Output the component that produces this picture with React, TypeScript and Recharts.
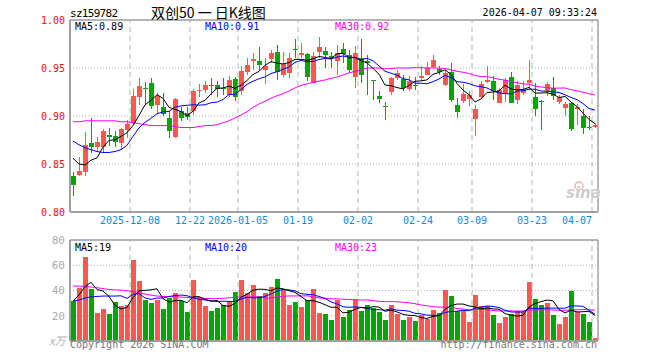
import React from "react";
import {
  ComposedChart, Bar, Line, XAxis, YAxis, CartesianGrid, ReferenceLine,
} from "recharts";

// trading days, 2025-11-24 .. 2026-04-07
const DATES = [
  "2025-11-24", "2025-11-25", "2025-11-26", "2025-11-27", "2025-11-28",
  "2025-12-01", "2025-12-02", "2025-12-03", "2025-12-04", "2025-12-05",
  "2025-12-08", "2025-12-09", "2025-12-10", "2025-12-11", "2025-12-12",
  "2025-12-15", "2025-12-16", "2025-12-17", "2025-12-18", "2025-12-19",
  "2025-12-22", "2025-12-23", "2025-12-24", "2025-12-25", "2025-12-26",
  "2025-12-29", "2025-12-30", "2025-12-31",
  "2026-01-05", "2026-01-06", "2026-01-07", "2026-01-08", "2026-01-09",
  "2026-01-12", "2026-01-13", "2026-01-14", "2026-01-15", "2026-01-16",
  "2026-01-19", "2026-01-20", "2026-01-21", "2026-01-22", "2026-01-23",
  "2026-01-26", "2026-01-27", "2026-01-28", "2026-01-29", "2026-01-30",
  "2026-02-02", "2026-02-03", "2026-02-04", "2026-02-05", "2026-02-06",
  "2026-02-09", "2026-02-10", "2026-02-11", "2026-02-12", "2026-02-13",
  "2026-02-24", "2026-02-25", "2026-02-26", "2026-02-27",
  "2026-03-02", "2026-03-03", "2026-03-04", "2026-03-05", "2026-03-06",
  "2026-03-09", "2026-03-10", "2026-03-11", "2026-03-12", "2026-03-13",
  "2026-03-16", "2026-03-17", "2026-03-18", "2026-03-19", "2026-03-20",
  "2026-03-23", "2026-03-24", "2026-03-25", "2026-03-26", "2026-03-27",
  "2026-03-30", "2026-03-31", "2026-04-01", "2026-04-02", "2026-04-03",
  "2026-04-07",
];

const OPEN = [
  0.838, 0.839, 0.842, 0.872, 0.868, 0.868, 0.880, 0.879, 0.872, 0.885,
  0.893, 0.920, 0.929, 0.934, 0.911, 0.909, 0.898, 0.878, 0.905, 0.903,
  0.905, 0.926, 0.927, 0.932, 0.932, 0.929, 0.922, 0.939, 0.926, 0.946,
  0.957, 0.957, 0.948, 0.959, 0.967, 0.943, 0.945, 0.970, 0.964, 0.965,
  0.934, 0.967, 0.968, 0.962, 0.957, 0.970, 0.964, 0.941, 0.960, 0.957,
  0.937, 0.921, 0.910, 0.925, 0.940, 0.939, 0.928, 0.932, 0.940, 0.943,
  0.951, 0.949, 0.932, 0.946, 0.911, 0.916, 0.918, 0.897, 0.920, 0.935,
  0.936, 0.914, 0.924, 0.941, 0.917, 0.924, 0.934, 0.920, 0.916, 0.926,
  0.929, 0.915, 0.908, 0.914, 0.907, 0.900, 0.889, 0.889,
];
const HIGH = [
  0.842, 0.857, 0.883, 0.898, 0.878, 0.886, 0.887, 0.884, 0.887, 0.896,
  0.928, 0.940, 0.935, 0.940, 0.924, 0.924, 0.905, 0.919, 0.909, 0.909,
  0.928, 0.933, 0.936, 0.940, 0.936, 0.940, 0.942, 0.941, 0.952, 0.960,
  0.966, 0.972, 0.960, 0.969, 0.974, 0.967, 0.966, 0.980, 0.976, 0.966,
  0.967, 0.982, 0.972, 0.967, 0.974, 0.976, 0.969, 0.973, 0.980, 0.964,
  0.938, 0.926, 0.915, 0.941, 0.948, 0.943, 0.942, 0.941, 0.952, 0.956,
  0.964, 0.952, 0.948, 0.955, 0.919, 0.933, 0.926, 0.911, 0.936, 0.952,
  0.942, 0.929, 0.940, 0.946, 0.936, 0.936, 0.958, 0.934, 0.917, 0.935,
  0.941, 0.922, 0.915, 0.915, 0.912, 0.907, 0.900, 0.893,
];
const LOW = [
  0.817, 0.838, 0.837, 0.861, 0.864, 0.862, 0.869, 0.868, 0.865, 0.877,
  0.891, 0.911, 0.912, 0.907, 0.903, 0.900, 0.877, 0.877, 0.895, 0.896,
  0.901, 0.920, 0.924, 0.922, 0.920, 0.922, 0.920, 0.916, 0.922, 0.943,
  0.948, 0.948, 0.933, 0.955, 0.937, 0.941, 0.940, 0.960, 0.960, 0.936,
  0.934, 0.960, 0.950, 0.950, 0.943, 0.955, 0.945, 0.929, 0.934, 0.922,
  0.917, 0.914, 0.896, 0.922, 0.938, 0.926, 0.926, 0.927, 0.936, 0.943,
  0.950, 0.943, 0.931, 0.915, 0.898, 0.914, 0.910, 0.879, 0.919, 0.934,
  0.917, 0.914, 0.915, 0.914, 0.912, 0.922, 0.927, 0.900, 0.885, 0.921,
  0.917, 0.912, 0.900, 0.884, 0.891, 0.881, 0.885, 0.887,
];
const CLOSE = [
  0.828, 0.843, 0.870, 0.868, 0.873, 0.884, 0.878, 0.873, 0.886, 0.892,
  0.921, 0.931, 0.928, 0.910, 0.921, 0.902, 0.884, 0.918, 0.898, 0.899,
  0.926, 0.927, 0.932, 0.931, 0.928, 0.928, 0.937, 0.920, 0.947, 0.953,
  0.959, 0.953, 0.952, 0.966, 0.946, 0.954, 0.960, 0.969, 0.966, 0.941,
  0.962, 0.972, 0.964, 0.960, 0.966, 0.965, 0.948, 0.966, 0.943, 0.955,
  0.936, 0.918, 0.909, 0.940, 0.945, 0.929, 0.936, 0.931, 0.942, 0.950,
  0.958, 0.946, 0.945, 0.917, 0.904, 0.923, 0.922, 0.907, 0.933, 0.937,
  0.926, 0.927, 0.937, 0.914, 0.932, 0.928, 0.938, 0.907, 0.915, 0.933,
  0.921, 0.920, 0.913, 0.886, 0.909, 0.887, 0.887, 0.891,
];

// volume, 万 shares
const VOLUME = [
  31.6, 42.2, 66.7, 41.4, 22.1, 25.3, 21.3, 30.8, 27.6, 28.2,
  64.5, 47.6, 32.4, 30.0, 32.4, 25.3, 34.0, 38.0, 31.6, 22.9,
  48.4, 34.8, 27.6, 23.7, 26.1, 28.4, 31.6, 38.8, 48.4, 38.0,
  44.4, 35.6, 38.0, 42.8, 49.2, 41.2, 28.4, 30.8, 26.9, 32.4,
  41.2, 22.1, 21.3, 16.5, 32.4, 19.1, 24.5, 33.2, 23.7, 28.4,
  26.3, 22.9, 16.5, 28.4, 21.3, 16.5, 18.9, 15.7, 20.5, 17.8,
  24.5, 22.1, 40.4, 35.6, 23.7, 24.5, 14.9, 36.4, 27.6, 27.6,
  20.5, 14.1, 18.9, 21.3, 23.7, 23.7, 46.8, 33.2, 28.4, 30.0,
  20.5, 13.3, 18.9, 39.6, 22.9, 21.3, 14.9, 2.2,
];

// MA values at the left edge (they need days before the window)
const MA5_HEAD = [0.856, 0.850, 0.849, 0.854];
const MA10_HEAD = [0.874, 0.870, 0.867, 0.865, 0.863, 0.862, 0.862, 0.863, 0.865];
const MA30_HEAD = [
  0.894, 0.894, 0.895, 0.895, 0.895, 0.895, 0.895, 0.895, 0.894, 0.894,
  0.893, 0.892, 0.891, 0.890, 0.890, 0.890, 0.890, 0.889, 0.888, 0.888,
  0.888, 0.889, 0.890, 0.890, 0.891, 0.893, 0.895, 0.898, 0.901,
];
const VMA5_HEAD = [31.6, 36.4, 43.0, 46.5];
const VMA10_HEAD = [31.6, 32.4, 34.0, 35.0, 35.3, 35.6, 35.6, 35.6, 35.8];
const VMA30_HEAD = [
  43.6, 43.5, 43.3, 42.8, 42.2, 41.5, 40.8, 40.5, 40.3, 39.8,
  39.3, 38.2, 37.2, 36.3, 35.6, 35.3, 35.1, 35.0, 34.8, 34.5,
  34.3, 34.0, 33.7, 33.6, 33.6, 33.8, 34.2, 34.6, 35.0,
];

const TICK_DATES = [
  "2025-12-08", "2025-12-22", "2026-01-05", "2026-01-19", "2026-02-02",
  "2026-02-24", "2026-03-09", "2026-03-23", "2026-04-07",
];
const FULL_DATES = ["2025-12-08", "2026-01-05"];
const PRICE_TICKS = [0.8, 0.85, 0.9, 0.95, 1.0];
const VOL_TICKS = [20, 40, 60, 80];

const RED = "#ff5555";
const GREEN = "#00a600";
const MONO = '"DejaVu Sans Mono", "Liberation Mono", monospace';
const GRID = "#b4b4b4";
const FRAME = "#a0a0a0";

function movingAvg(src: number[], n: number, head: number[]) {
  return src.map((_, i) =>
    i < n - 1 ? head[i] : src.slice(i - n + 1, i + 1).reduce((a, b) => a + b, 0) / n
  );
}

const ma5 = movingAvg(CLOSE, 5, MA5_HEAD);
const ma10 = movingAvg(CLOSE, 10, MA10_HEAD);
const ma30 = movingAvg(CLOSE, 30, MA30_HEAD);
const vma5 = movingAvg(VOLUME, 5, VMA5_HEAD);
const vma10 = movingAvg(VOLUME, 10, VMA10_HEAD);
const vma30 = movingAvg(VOLUME, 30, VMA30_HEAD);

const rows = DATES.map((date, i) => ({
  date,
  open: OPEN[i],
  high: HIGH[i],
  low: LOW[i],
  close: CLOSE[i],
  range: [LOW[i], HIGH[i]],
  up: CLOSE[i] >= OPEN[i],
  ma5: ma5[i],
  ma10: ma10[i],
  ma30: ma30[i],
  volume: VOLUME[i],
  vma5: vma5[i],
  vma10: vma10[i],
  vma30: vma30[i],
}));

function Candle(props: any) {
  const { x, y, height, payload } = props;
  const { open, close, high, low, up } = payload;
  const span = high - low;
  const toY = (v: number) => (span > 0 ? y + ((high - v) / span) * height : y);
  const color = up ? RED : GREEN;
  const left = Math.floor(x);
  const wickTop = Math.round(y);
  const wickBot = Math.round(y + height);
  const top = Math.round(toY(Math.max(open, close)));
  const bot = Math.round(toY(Math.min(open, close)));
  return (
    <g>
      <rect x={left + 2} y={wickTop} width={1} height={Math.max(1, wickBot - wickTop)} fill={color} />
      <rect x={left} y={top} width={5} height={Math.max(1, bot - top)} fill={color} />
    </g>
  );
}

function VolBar(props: any) {
  const { x, y, height, payload } = props;
  const top = Math.round(y);
  const bot = Math.round(y + height);
  return <rect x={Math.floor(x)} y={top} width={5} height={Math.max(0, bot - top)} fill={payload.up ? RED : GREEN} />;
}

function DateTick({ x, y, payload }: any) {
  const d: string = payload.value;
  const label = FULL_DATES.includes(d) ? d : d.slice(5);
  const last = d === DATES[DATES.length - 1];
  return (
    <text x={x - 3} y={y + 10} textAnchor={last ? "end" : "middle"} fill="#1188dd" fontSize={10} fontFamily={MONO}>
      {label}
    </text>
  );
}

function frameLines(top: number, lastDate: string) {
  return [
    <ReferenceLine key="top" y={top} stroke={FRAME} strokeWidth={1.5} />,
    <ReferenceLine key="right" x={lastDate} position="end" stroke={FRAME} strokeWidth={1.5} />,
  ];
}

function dateLines() {
  return TICK_DATES.map((d) => (
    <ReferenceLine key={d} x={d} position="start" stroke={GRID} strokeDasharray="5 4" />
  ));
}

export default function App() {
  const last = DATES[DATES.length - 1];
  return (
    <div style={{ position: "fixed", left: 0, top: 0, width: 660, height: 360, background: "#fff" }}>
      <div style={{ position: "absolute", left: 0, top: 0 }}>
        <ComposedChart width={660} height={230} data={rows} margin={{ top: 20, right: 62, bottom: 0, left: 8 }} barSize={5}>
          <CartesianGrid vertical={false} stroke={GRID} strokeDasharray="1 2" />
          <XAxis
            dataKey="date"
            ticks={TICK_DATES}
            interval={0}
            tick={<DateTick />}
            tickLine={false}
            tickSize={0}
            axisLine={{ stroke: FRAME, strokeWidth: 2 }}
            height={18}
          />
          <YAxis
            domain={[0.8, 1.0]}
            ticks={PRICE_TICKS}
            allowDataOverflow
            width={62}
            tickSize={0}
            tickMargin={5}
            tickLine={false}
            axisLine={{ stroke: FRAME, strokeWidth: 2 }}
            tickFormatter={(v: number) => v.toFixed(2)}
            tick={{ fill: "#ee1111", fontSize: 10, fontFamily: MONO }}
          />
          {dateLines()}
          {frameLines(1.0, last)}
          <Bar dataKey="range" shape={<Candle />} isAnimationActive={false} />
          <Line type="linear" dataKey="ma30" stroke="#ff00ff" strokeWidth={1} dot={false} activeDot={false} isAnimationActive={false} />
          <Line type="linear" dataKey="ma10" stroke="#0000ff" strokeWidth={1} dot={false} activeDot={false} isAnimationActive={false} />
          <Line type="linear" dataKey="ma5" stroke="#000000" strokeWidth={1} dot={false} activeDot={false} isAnimationActive={false} />
        </ComposedChart>
      </div>

      <div style={{ position: "absolute", left: 0, top: 230 }}>
        <ComposedChart width={660} height={130} data={rows} margin={{ top: 10, right: 62, bottom: 19, left: 8 }} barSize={5}>
          <CartesianGrid vertical={false} stroke={GRID} strokeDasharray="1 2" />
          <XAxis dataKey="date" hide />
          <YAxis
            domain={[0, 80]}
            ticks={VOL_TICKS}
            allowDataOverflow
            width={62}
            tickSize={0}
            tickMargin={5}
            tickLine={false}
            axisLine={{ stroke: FRAME, strokeWidth: 2 }}
            tick={{ fill: "#aaaaaa", fontSize: 11, fontFamily: MONO }}
          />
          {dateLines()}
          {frameLines(80, last)}
          <ReferenceLine y={0} stroke={FRAME} strokeWidth={2} />
          <Bar dataKey="volume" shape={<VolBar />} isAnimationActive={false} />
          <Line type="linear" dataKey="vma30" stroke="#ff00ff" strokeWidth={1} dot={false} activeDot={false} isAnimationActive={false} />
          <Line type="linear" dataKey="vma10" stroke="#0000ff" strokeWidth={1} dot={false} activeDot={false} isAnimationActive={false} />
          <Line type="linear" dataKey="vma5" stroke="#000000" strokeWidth={1} dot={false} activeDot={false} isAnimationActive={false} />
        </ComposedChart>
      </div>

      <svg width={660} height={360} style={{ position: "absolute", left: 0, top: 0, pointerEvents: "none" }}>
        <g fontFamily={MONO} fontSize={10}>
          <text x={70} y={17} fontSize={11} letterSpacing={-0.7} fill="#000">sz159782</text>
          <text x={597} y={16} textAnchor="end" fill="#000">2026-04-07 09:33:24</text>

          <text x={75} y={29.5} fill="#000">MA5:0.89</text>
          <text x={205} y={29.5} fill="#0000ff">MA10:0.91</text>
          <text x={335} y={29.5} fill="#ff00ff">MA30:0.92</text>

          <text x={75} y={251} fill="#000">MA5:19</text>
          <text x={205} y={251} fill="#0000ff">MA10:20</text>
          <text x={335} y={251} fill="#ff00ff">MA30:23</text>

          <text x={70} y={348} fill="#777">Copyright 2026 SINA.COM</text>
          <text x={597} y={348} textAnchor="end" fill="#777">http://finance.sina.com.cn</text>
        </g>
        <text x={151} y={18} fontSize={14} fontFamily='"Noto Sans CJK SC", sans-serif' fill="#000">双创50 一 日K线图</text>
        <text x={49} y={345} fontSize={11} fontStyle="italic" fontFamily='"Noto Sans CJK SC", sans-serif' fill="#b0b0b0">x万</text>
        <circle cx={579} cy={186} r={4} fill="none" stroke="#f2b4b4" strokeWidth={1.5} />
        <text x={566} y={198} fontSize={15} fontStyle="italic" fontWeight="bold" fontFamily="Verdana, DejaVu Sans, sans-serif" fill="#cccccc">sina</text>
      </svg>
    </div>
  );
}
